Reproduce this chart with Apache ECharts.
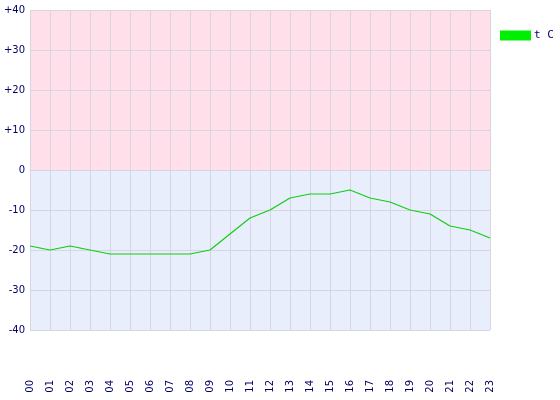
<!DOCTYPE html>
<html><head><meta charset="utf-8">
<script src="https://cdn.jsdelivr.net/npm/echarts@6/dist/echarts.min.js"></script>
<style>html,body{margin:0;padding:0;background:#fff}#c{width:560px;height:400px}</style>
</head><body><div id="c"></div>
<script>
const hours = ['00','01','02','03','04','05','06','07','08','09','10','11','12','13','14','15','16','17','18','19','20','21','22','23'];
const temps = [-19,-20,-19,-20,-21,-21,-21,-21,-21,-20,-16,-12,-10,-7,-6,-6,-5,-7,-8,-10,-11,-14,-15,-17];
const seriesName = 't C';
const yMin = -40, yMax = 40, yStep = 10;

const chart = echarts.init(document.getElementById('c'), null, {renderer:'canvas'});
chart.setOption({
  animation:false,
  grid:{left:30, right:70, top:10, bottom:70, containLabel:false},
  legend:{
    data:[seriesName], left:500, top:30, orient:'vertical', padding:0,
    icon:'rect', itemWidth:31, itemHeight:10, itemGap:4,
    textStyle:{color:'#000066', fontFamily:'DejaVu Sans Mono', fontSize:11, padding:[0,0,0,-2]}
  },
  xAxis:{
    type:'category', data:hours, boundaryGap:false,
    axisLine:{show:true, lineStyle:{color:'#d6d6e0'}},
    axisTick:{show:false},
    splitLine:{show:true, lineStyle:{color:'#d6d6e0', width:1}},
    axisLabel:{rotate:90, margin:50, color:'#000066', fontFamily:'DejaVu Sans', fontSize:10, interval:0}
  },
  yAxis:{
    type:'value', min:yMin, max:yMax, interval:yStep,
    axisLine:{show:false}, axisTick:{show:false},
    splitLine:{show:true, lineStyle:{color:'#d6d6e0', width:1}},
    axisLabel:{margin:5, color:'#000066', fontFamily:'DejaVu Sans', fontSize:10,
      formatter:v => v>0 ? '+'+v : String(v)}
  },
  series:[{
    name:seriesName, type:'line', data:temps, symbol:'none',
    lineStyle:{color:'#11cc11', width:1.2}, itemStyle:{color:'#00ee00'},
    z:5,
    markArea:{silent:true, z:-1,
      data:[
        [{yAxis:0, itemStyle:{color:'#ffdfe9'}},{yAxis:yMax}],
        [{yAxis:yMin, itemStyle:{color:'#e9eefc'}},{yAxis:0}]
      ]}
  }]
});
</script></body></html>
